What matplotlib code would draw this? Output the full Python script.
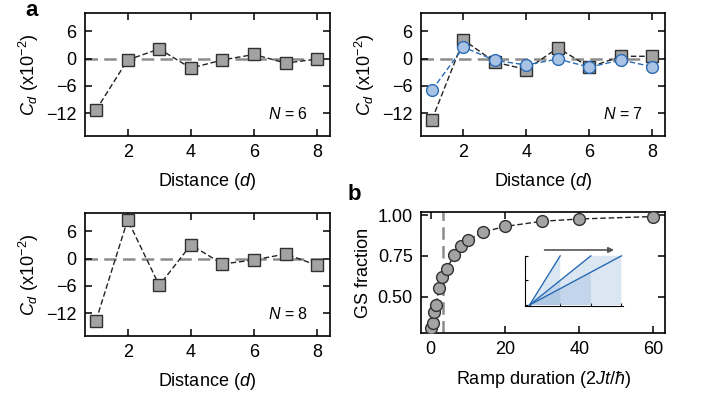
"""Correlations C_d vs distance (a) and ground-state fraction vs ramp duration (b)."""

import numpy as np
import matplotlib
matplotlib.use("Agg")
import matplotlib.pyplot as plt

plt.rcParams["font.family"] = ["Liberation Sans", "DejaVu Sans"]
plt.rcParams["mathtext.fontset"] = "custom"
plt.rcParams["mathtext.rm"] = "Liberation Sans"
plt.rcParams["mathtext.it"] = "Liberation Sans:italic"
plt.rcParams["axes.unicode_minus"] = True

# ---- data ----
distance = [1, 2, 3, 4, 5, 6, 7, 8]
cd_n6 = [-11.3, -0.3, 2.1, -2.1, -0.3, 0.9, -1.0, -0.1]
cd_n7 = [-13.4, 4.1, -0.8, -2.4, 2.35, -1.9, 0.5, 0.5]
cd_n7_sim = [-6.9, 2.5, -0.4, -1.4, -0.1, -1.9, -0.3, -1.8]
cd_n8 = [-13.6, 8.5, -5.9, 3.0, -1.2, -0.3, 1.0, -1.5]

ramp_time = [0, 0.5, 1.0, 1.5, 2.2, 3.1, 4.3, 6.4, 8.2, 10.1, 14, 20, 30, 40, 60]
gs_fraction = [0.307, 0.338, 0.409, 0.449, 0.555, 0.618, 0.673, 0.754, 0.809,
               0.846, 0.896, 0.931, 0.963, 0.977, 0.992]
marked_time = 3.2

inset_ramps = [1, 2, 3]

SQ_FACE = "#a3a3a3"
EDGE = "#303030"
BLUE = "#2a6bb5"
BLUE_FACE = "#a8c3e3"
ZERO_GRAY = "#8c8c8c"


def style_axes(ax):
    for s in ax.spines.values():
        s.set_linewidth(1.2)
    ax.tick_params(direction="in", length=5, width=1.1, top=True, right=True,
                   labelsize=13, pad=6)


def corr_panel(ax, label):
    ax.axhline(0, color=ZERO_GRAY, lw=1.8, ls=(0, (5, 2.5)), zorder=1)
    ax.set_xlim(0.65, 8.4)
    ax.set_ylim(-17, 10)
    ax.set_xticks([2, 4, 6, 8])
    ax.set_yticks([6, 0, -6, -12])
    ax.set_xlabel("Distance ($d$)", fontsize=13, labelpad=7)
    ax.set_ylabel("$C_d$ (x10$^{-2}$)", fontsize=13, labelpad=4)
    ax.text(0.91, 0.18, label, transform=ax.transAxes, ha="right", va="center",
            fontsize=11.5)
    style_axes(ax)


def squares(ax, y):
    ax.plot(distance, y, color="#222222", lw=1.0, ls=(0, (4, 2)), marker="s",
            ms=8, mfc=SQ_FACE, mec=EDGE, mew=1.0, zorder=3)


fig = plt.figure(figsize=(7.04, 3.99), dpi=100)

ax1 = fig.add_axes([0.1207, 0.6591, 0.348, 0.3083])
squares(ax1, cd_n6)
corr_panel(ax1, "$N$ = 6")

ax2 = fig.add_axes([0.598, 0.6591, 0.3466, 0.3083])
squares(ax2, cd_n7)
ax2.plot(distance, cd_n7_sim, color=BLUE, lw=1.0, ls=(0, (4, 2)), marker="o",
         ms=8.5, mfc=BLUE_FACE, mec=BLUE, mew=1.0, zorder=4)
corr_panel(ax2, "$N$ = 7")

ax3 = fig.add_axes([0.1207, 0.1579, 0.348, 0.3083])
squares(ax3, cd_n8)
corr_panel(ax3, "$N$ = 8")

# ---- panel b ----
axb = fig.add_axes([0.598, 0.1654, 0.3466, 0.3033])
axb.axvline(marked_time, color=ZERO_GRAY, lw=1.8, ls=(0, (5, 2.5)), zorder=1)
axb.plot(ramp_time, gs_fraction, color="#222222", lw=1.0, ls=(0, (4, 2)),
         marker="o", ms=8.5, mfc=SQ_FACE, mec=EDGE, mew=1.0, zorder=3)
axb.set_xlim(-2.6, 63.1)
axb.set_ylim(0.277, 1.02)
axb.set_xticks([0, 20, 40, 60])
axb.set_yticks([0.5, 0.75, 1.0])
axb.set_yticklabels(["0.50", "0.75", "1.00"])
axb.set_xlabel("Ramp duration (2$Jt$/$ħ$)", fontsize=13, labelpad=8)
axb.set_ylabel("GS fraction", fontsize=13, labelpad=4)
style_axes(axb)

# inset: schematic of linear ramps
axi = fig.add_axes([0.7457, 0.2331, 0.1392, 0.1404])
axi.patch.set_alpha(0)
for T in inset_ramps:
    axi.plot([0, T], [0, 1], color=BLUE, lw=1.0, zorder=3)
for i, T in enumerate(inset_ramps):
    if i == len(inset_ramps) - 1:
        prev = inset_ramps[i - 1]
        xs = [0, prev, prev, T, T]
        ys = [0, prev / T, 1, 1, 0]
    else:
        xs = [0, T, T]
        ys = [0, 1, 0]
    axi.fill(xs, ys, color="#8fb3da", alpha=0.32, lw=0, zorder=2)
axi.annotate("", xy=(2.85, 1.12), xytext=(0.4, 1.12),
             arrowprops=dict(arrowstyle="-|>", color="#555555", lw=1.2,
                             mutation_scale=8))
axi.set_xlim(-0.15, 3.05)
axi.set_ylim(-0.02, 1.12)
axi.spines["top"].set_visible(False)
axi.spines["right"].set_visible(False)
axi.spines["left"].set_bounds(-0.02, 1.0)
for s in ("left", "bottom"):
    axi.spines[s].set_linewidth(0.8)
axi.set_xticks([0, 1, 2, 3])
axi.set_yticks([0, 0.5, 1.0])
axi.tick_params(direction="in", length=2.5, width=0.8, labelbottom=False,
                labelleft=False)

fig.text(32 / 704, 1 - 10 / 399, "a", fontsize=16, fontweight="bold",
         ha="center", va="center")
fig.text(354 / 704, 1 - 194 / 399, "b", fontsize=16, fontweight="bold",
         ha="center", va="center")

fig.savefig("out.png", dpi=100)
plt.close(fig)
